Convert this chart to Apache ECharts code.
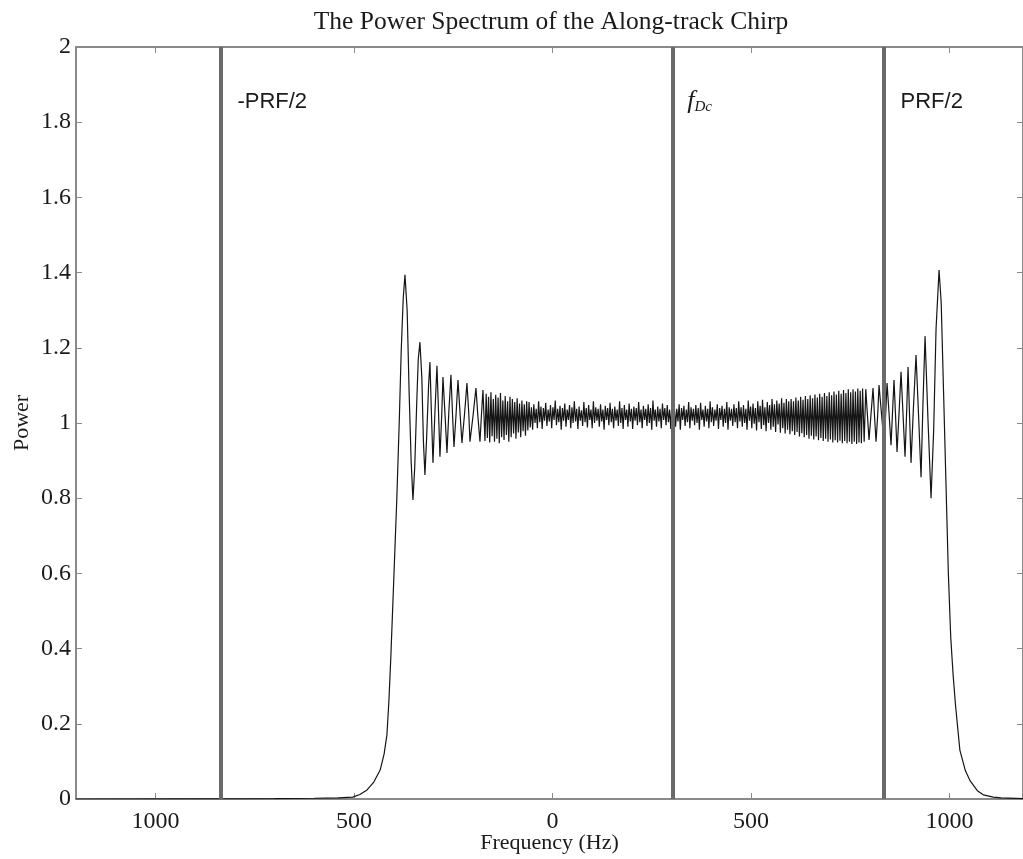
<!DOCTYPE html>
<html>
<head>
<meta charset="utf-8">
<script src="https://cdn.jsdelivr.net/npm/echarts@6/dist/echarts.min.js"></script>
<style>html,body{margin:0;padding:0;background:#fff;}#c{width:1023px;height:859px;}</style>
</head>
<body>
<div id="c"></div>
<script>
// ---- data ----
var xTicks = [-1000, -500, 0, 500, 1000];
var markerFreqs = [-835, 303, 835];
var markerNames = ['-PRF/2', 'fDc', 'PRF/2'];

// rising edge and first Fresnel ripples [frequency Hz, power]
var leftEdge = [
[-1200,0],[-900,0.0005],[-700,0.001],[-600,0.002],[-540,0.003],[-503,0.005],[-485,0.012],[-467,0.024],
[-450,0.045],[-434,0.077],[-424,0.12],[-417,0.17],[-412,0.26],[-407,0.38],[-402,0.52],[-397,0.66],
[-392,0.8],[-386,1.0],[-381,1.19],[-376,1.33],[-371.5,1.394],[-366,1.3],[-361,1.08],[-356,0.9],
[-351.4,0.795],[-347,0.88],[-342,1.05],[-338,1.17],[-333.8,1.215],[-329,1.12],[-325,0.95],[-321.2,0.862],
[-317,0.96],[-312,1.1],[-308.6,1.162],[-305,1.03],[-301,0.894],[-296,1.03],[-290.9,1.152],[-287,1.03],
[-283.4,0.91],[-279,1.02],[-275.8,1.122],[-270,1.01],[-265.7,0.92],[-261,1.03],[-255.7,1.128],[-252,1.03],
[-248.1,0.936],[-243,1.02],[-238,1.114],[-233,1.03],[-228,0.947],[-221,1.03],[-215.4,1.106],[-211,1.03],
[-207.8,0.95],[-200,1.02],[-192.7,1.093],[-188,1.02],[-182.6,0.95],[-179,1.02],[-175.1,1.088]
];

// dense ripple band in the middle of the spectrum
var denseBand = [
[-170,0.952],[-167,1.078],[-164,0.960],[-161,1.070],[-158,0.948],[-155,1.082],[-152,0.965],[-149,1.064],[-146,0.950],[-143,1.075],
[-140,0.958],[-137,1.068],[-134,0.946],[-131,1.080],[-128,0.962],[-125,1.060],[-122,0.955],[-119,1.072],[-116,0.968],[-113,1.058],
[-110,0.950],[-107,1.070],[-104,0.962],[-101,1.064],[-98,0.972],[-95,1.056],[-92,0.958],[-89,1.066],[-86,0.975],[-83,1.052],
[-80,0.962],[-77,1.060],[-74,0.978],[-71,1.050],[-68,0.966],[-65,1.058],[-62,0.980],
[-59,1.056],[-56,0.988],[-53,1.042],[-50,0.982],[-47,1.050],[-44,1.000],[-41,1.038],[-38,0.986],[-35,1.058],[-32,1.002],
[-29,1.044],[-26,0.984],[-23,1.040],[-20,1.006],[-17,1.054],[-14,0.992],[-11,1.036],[-8,1.004],[-5,1.048],[-2,0.986],
[1,1.042],[4,1.008],[7,1.060],[10,0.994],[13,1.038],[16,1.002],[19,1.046],[22,0.982],[25,1.040],[28,1.006],
[31,1.052],[34,0.990],[37,1.036],[40,1.008],[43,1.048],[46,0.986],[49,1.042],[52,1.000],[55,1.058],[58,1.004],
[61,1.038],[64,0.984],[67,1.044],[70,1.006],[73,1.034],[76,0.992],[79,1.056],[82,1.002],[85,1.040],[88,0.988],
[91,1.048],[94,1.008],[97,1.036],[100,0.986],[103,1.058],[106,1.000],[109,1.042],[112,1.006],[115,1.038],[118,0.990],
[121,1.050],[124,1.004],[127,1.036],[130,0.982],[133,1.046],[136,1.008],[139,1.040],[142,0.994],[145,1.054],[148,1.002],
[151,1.038],[154,0.986],[157,1.044],[160,1.006],[163,1.036],[166,0.992],[169,1.058],[172,1.000],[175,1.040],[178,0.984],
[181,1.048],[184,1.008],[187,1.036],[190,0.990],[193,1.052],[196,1.004],[199,1.038],[202,0.984],[205,1.044],[208,1.006],
[211,1.040],[214,0.994],[217,1.056],[220,1.002],[223,1.036],[226,0.986],[229,1.046],[232,1.008],[235,1.038],[238,0.992],
[241,1.050],[244,1.000],[247,1.040],[250,0.982],[253,1.060],[256,1.006],[259,1.036],[262,0.990],[265,1.044],[268,1.004],
[271,1.038],[274,0.986],[277,1.052],[280,1.008],[283,1.040],[286,0.994],[289,1.048],[292,1.002],[295,1.036],[298,0.984],
[301,1.058],[304,1.006],[307,1.042],[310,0.990],[313,1.038],[316,1.004],[319,1.050],[322,0.982],[325,1.040],[328,1.008],
[331,1.046],[334,0.992],[337,1.036],[340,1.002],[343,1.056],[346,0.986],[349,1.042],[352,1.006],[355,1.038],[358,0.994],
[361,1.048],[364,1.000],[367,1.040],[370,0.982],[373,1.054],[376,1.008],[379,1.036],[382,0.990],[385,1.046],[388,1.004],
[391,1.038],[394,0.986],[397,1.058],[400,1.002],[403,1.042],[406,0.992],[409,1.036],[412,1.006],[415,1.050],[418,0.984],
[421,1.040],[424,1.008],[427,1.046],[430,0.990],[433,1.038],[436,1.000],[439,1.056],[442,0.982],[445,1.042],[448,1.006],
[451,1.038],[454,0.992],[457,1.050],[460,1.002],[463,1.040],[466,0.986],[469,1.058],[472,1.004],[475,1.042],[478,0.990],
[481,1.048],[484,1.000],[487,1.038],[490,0.982],[493,1.060],[496,1.006],[499,1.044],[502,0.986],[505,1.052],[508,0.998],
[511,1.040],[514,0.980],[517,1.058],[520,1.002],[523,1.046],[526,0.984],[529,1.062],[532,0.994],[535,1.042],[538,0.978],
[541,1.056],[544,1.000],[547,1.048],[550,0.982],[553,1.064],[556,0.990],[559,1.050],[562,0.976],[565,1.060],[568,0.996],
[571,1.052],[574,0.974],[577,1.066],[580,0.986],[583,1.054],[586,0.972],[589,1.064],[592,0.982],[595,1.058],[598,0.970],
[601,1.064],[604,0.978],[607,1.058],[610,0.968],[613,1.068],[616,0.976],[619,1.060],[622,0.964],[625,1.070],[628,0.973],
[631,1.062],[634,0.962],[637,1.072],[640,0.968],[643,1.064],[646,0.958],[649,1.074],[652,0.966],[655,1.066],[658,0.956],
[661,1.076],[664,0.964],[667,1.068],[670,0.954],[673,1.078],[676,0.960],[679,1.070],[682,0.952],[685,1.080],[688,0.958],
[691,1.072],[694,0.950],[697,1.082],[700,0.956],[703,1.074],[706,0.948],[709,1.084],[712,0.954],[715,1.076],[718,0.948],
[721,1.086],[724,0.953],[727,1.078],[730,0.946],[733,1.088],[736,0.952],[739,1.080],[742,0.946],[745,1.090],[748,0.950],
[751,1.082],[754,0.944],[757,1.090],[760,0.950],[763,1.084],[766,0.944],[769,1.092],[772,0.948],[775,1.086],[778,0.946],
[781,1.092],[785,0.950],[789,1.090]
];

// last ripples and falling edge
var rightEdge = [
[797.2,0.955],[802,1.02],[807.3,1.093],[811,1.02],[814.9,0.95],[819,1.02],[822.4,1.101],[829,1.02],
[835,0.947],[839,1.02],[842.6,1.106],[848,1.02],[852.6,0.941],[856,1.02],[860.2,1.114],[864,1.02],
[867.8,0.923],[873,1.03],[877.8,1.136],[883,1.02],[887.9,0.91],[892,1.03],[895.5,1.149],[899,1.03],
[903,0.894],[909,1.04],[915.6,1.181],[922,1.02],[928.2,0.856],[933,1.05],[938.3,1.231],[946,1.0],
[953.4,0.8],[960,0.98],[966,1.25],[973.6,1.407],[979,1.32],[985,1.08],[991,0.84],[997,0.6],
[1003,0.43],[1009,0.33],[1015,0.25],[1026,0.13],[1040,0.075],[1052,0.048],[1070,0.022],[1085,0.011],
[1110,0.005],[1130,0.003],[1185,0.001]
];

var spectrum = leftEdge.concat(denseBand, rightEdge);

var serif = 'Liberation Serif';
var sans = 'Liberation Sans';
var axisGray = '#8a8a8a';
var X_MIN = -1200, X_MAX = 1185;

var chart = echarts.init(document.getElementById('c'), null, {renderer: 'canvas'});

function xAxisCfg(pos, showLabel) {
  return {
    type: 'value', position: pos, min: X_MIN, max: X_MAX,
    axisLine: {show: true, onZero: false, lineStyle: {color: axisGray, width: 2}},
    axisTick: {show: true, inside: true, length: 6, customValues: xTicks, lineStyle: {color: axisGray, width: 1}},
    axisLabel: {show: showLabel, customValues: xTicks, margin: 11, fontFamily: serif, fontSize: 24, color: '#1a1a1a',
      formatter: function (v) { return String(Math.abs(v)); }},
    splitLine: {show: false},
    name: showLabel ? 'Frequency (Hz)' : '', nameLocation: 'middle', nameGap: 33, nameMoveOverlap: false,
    nameTextStyle: {fontFamily: serif, fontSize: 22, color: '#1a1a1a'}
  };
}
function yAxisCfg(pos, showLabel) {
  return {
    type: 'value', position: pos, min: 0, max: 2, interval: 0.2,
    axisLine: {show: true, onZero: false, lineStyle: {color: axisGray, width: 2}},
    axisTick: {show: true, inside: true, length: 6, lineStyle: {color: axisGray, width: 1}},
    axisLabel: {show: showLabel, margin: 5, fontFamily: serif, fontSize: 24, color: '#1a1a1a'},
    splitLine: {show: false},
    name: showLabel ? 'Power' : '', nameLocation: 'middle', nameGap: 43, nameRotate: 90, nameMoveOverlap: false,
    nameTextStyle: {fontFamily: serif, fontSize: 22, color: '#1a1a1a'}
  };
}

var labelY = 1.855;
chart.setOption({
  animation: false,
  backgroundColor: '#ffffff',
  title: {
    text: 'The Power Spectrum of the Along-track Chirp',
    left: 551, textAlign: 'center', top: 9, padding: 0,
    textStyle: {fontFamily: serif, fontSize: 25.5, fontWeight: 'normal', color: '#1a1a1a'}
  },
  grid: {left: 76, right: 0, top: 47, bottom: 60, containLabel: false, outerBoundsMode: 'none'},
  xAxis: [xAxisCfg('bottom', true), xAxisCfg('top', false)],
  yAxis: [yAxisCfg('left', true), yAxisCfg('right', false)],
  series: [{
    type: 'line',
    data: spectrum,
    showSymbol: false,
    symbol: 'none',
    sampling: null,
    lineStyle: {color: '#151515', width: 1.2},
    z: 3,
    markLine: {
      silent: true, symbol: 'none', animation: false,
      lineStyle: {color: '#6a6a6a', width: 4, type: 'solid'},
      label: {show: false},
      data: markerFreqs.map(function (f) { return {xAxis: f}; })
    },
    markPoint: {
      silent: true, symbol: 'circle', symbolSize: 1, animation: false,
      itemStyle: {color: 'rgba(0,0,0,0)'},
      label: {show: true, position: 'right', distance: 16, fontFamily: sans, fontSize: 22, color: '#1a1a1a'},
      data: [
        {coord: [markerFreqs[0], labelY], label: {formatter: markerNames[0]}},
        {coord: [markerFreqs[1], labelY], label: {
          formatter: '{f|f}{s|Dc}', distance: 14,
          rich: {
            f: {fontFamily: serif, fontStyle: 'italic', fontSize: 26, lineHeight: 26, color: '#1a1a1a'},
            s: {fontFamily: serif, fontStyle: 'italic', fontSize: 15, lineHeight: 15, verticalAlign: 'bottom', padding: [14, 0, 0, 0], color: '#1a1a1a'}
          }}},
        {coord: [markerFreqs[2], labelY], label: {formatter: markerNames[2]}}
      ]
    }
  }]
});
</script>
</body>
</html>
